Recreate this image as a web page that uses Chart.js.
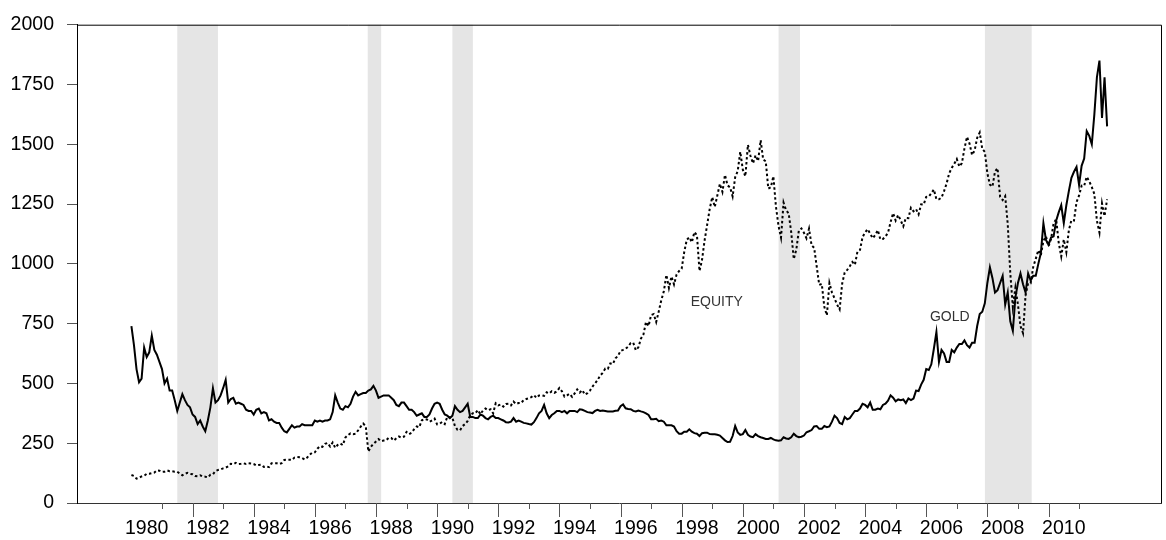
<!DOCTYPE html>
<html>
<head>
<meta charset="utf-8">
<script src="https://cdn.jsdelivr.net/npm/chart.js@4"></script>
<style>
  html, body { margin: 0; padding: 0; background: #fff; }
  #wrap { width: 1166px; height: 540px; position: relative; }
</style>
</head>
<body>
<div id="wrap"><canvas id="c" width="1166" height="540"></canvas></div>
<script>
// ---- Data (monthly, Jan 1980 .. Dec 2011) ----
const firstYear = 1980;
const gold = [
  740, 660, 560, 505, 520, 650, 610, 630, 700, 640, 620, 590,   // 1980
  560, 500, 520, 470, 470, 430, 385, 420, 455, 430, 410, 400,   // 1981
  370, 360, 330, 345, 320, 300, 345, 400, 480, 420, 430, 450,   // 1982
  480, 515, 420, 435, 440, 415, 420, 415, 410, 390, 385, 385,   // 1983
  370, 390, 395, 375, 380, 375, 345, 350, 340, 335, 335, 315,   // 1984
  300, 295, 310, 325, 315, 320, 320, 330, 325, 325, 325, 325,   // 1985
  345, 340, 345, 340, 345, 345, 350, 380, 450, 420, 395, 390,   // 1986
  405, 400, 415, 445, 465, 450, 455, 460, 460, 470, 475, 490,   // 1987
  470, 440, 445, 450, 450, 450, 440, 430, 410, 405, 420, 420,   // 1988
  405, 390, 390, 380, 365, 370, 375, 360, 360, 370, 395, 415,   // 1989
  420, 415, 390, 370, 365, 355, 365, 405, 390, 380, 385, 400,   // 1990
  415, 360, 360, 355, 355, 370, 365, 355, 350, 360, 365, 355,   // 1991
  355, 350, 345, 338, 337, 340, 355, 340, 345, 340, 335, 333,   // 1992
  330, 328, 338, 355, 375, 385, 410, 375, 355, 368, 375, 385,   // 1993
  385, 380, 385, 375, 385, 385, 385, 380, 392, 390, 385, 380,   // 1994
  378, 376, 385, 390, 385, 387, 385, 383, 383, 383, 386, 387,   // 1995
  405, 412, 396, 393, 392, 385, 383, 387, 383, 380, 375, 368,   // 1996
  350, 350, 352, 342, 345, 340, 325, 325, 325, 320, 300, 290,   // 1997
  290, 298, 298, 308, 298, 292, 290, 280, 292, 294, 294, 288,   // 1998
  287, 287, 285, 282, 272, 262, 255, 256, 280, 322, 295, 285,   // 1999
  288, 305, 285, 278, 275, 288, 280, 275, 272, 268, 268, 272,   // 2000
  266, 262, 260, 262, 275, 270, 268, 275, 290, 280, 275, 277,   // 2001
  282, 296, 300, 305, 320, 322, 310, 310, 322, 317, 320, 340,   // 2002
  365, 355, 335, 330, 360, 350, 355, 370, 385, 385, 395, 415,   // 2003
  410, 400, 420, 390, 390, 395, 392, 410, 415, 428, 450, 440,   // 2004
  425, 433, 430, 433, 418, 437, 430, 437, 470, 468, 495, 515,   // 2005
  560, 556, 580, 645, 715, 590, 640, 625, 590, 590, 640, 630,   // 2006
  650, 665, 665, 680, 660, 650, 670, 670, 740, 790, 800, 835,   // 2007
  920, 985, 940, 880, 890, 920, 950, 830, 880, 760, 720, 860,   // 2008
  920, 960, 915, 880, 960, 930, 950, 950, 1000, 1045, 1170, 1100, // 2009
  1080, 1110, 1115, 1180, 1215, 1245, 1170, 1245, 1305, 1360, 1385, 1405, // 2010
  1330, 1410, 1440, 1555, 1535, 1500, 1625, 1780, 1850, 1610, 1780, 1575  // 2011
];
const equity = [
  117, 113, 102, 106, 111, 114, 122, 122, 125, 127, 136, 135,   // 1980
  130, 131, 136, 133, 133, 131, 131, 123, 116, 122, 126, 122,   // 1981
  120, 113, 112, 116, 111, 110, 107, 118, 120, 134, 138, 140,   // 1982
  145, 148, 153, 164, 162, 168, 163, 164, 166, 163, 166, 165,   // 1983
  163, 157, 159, 160, 151, 153, 150, 166, 166, 166, 163, 167,   // 1984
  180, 181, 181, 180, 190, 192, 191, 188, 182, 190, 202, 211,   // 1985
  212, 227, 238, 235, 247, 251, 236, 253, 231, 243, 249, 242,   // 1986
  274, 284, 291, 288, 290, 304, 319, 332, 321, 215, 235, 247,   // 1987
  257, 267, 258, 261, 262, 273, 272, 261, 271, 278, 273, 277,   // 1988
  297, 288, 294, 309, 320, 317, 346, 351, 349, 340, 345, 353,   // 1989
  329, 331, 339, 330, 361, 358, 356, 322, 306, 304, 322, 330,   // 1990
  343, 367, 375, 375, 389, 371, 387, 395, 388, 392, 375, 417,   // 1991
  408, 412, 403, 414, 415, 408, 424, 414, 418, 418, 431, 435,   // 1992
  438, 443, 451, 440, 450, 450, 448, 463, 458, 467, 461, 466,   // 1993
  481, 467, 445, 450, 457, 444, 458, 475, 462, 472, 453, 459,   // 1994
  470, 487, 500, 514, 533, 544, 562, 561, 584, 581, 605, 615,   // 1995
  636, 640, 645, 654, 669, 670, 639, 651, 687, 705, 757, 740,   // 1996
  786, 790, 757, 801, 848, 885, 954, 899, 947, 914, 955, 970,   // 1997
  980, 1049, 1101, 1111, 1090, 1133, 1120, 970, 1017, 1098, 1163, 1229, // 1998
  1279, 1238, 1286, 1335, 1301, 1372, 1328, 1320, 1282, 1362, 1388, 1469, // 1999
  1394, 1366, 1498, 1452, 1420, 1454, 1430, 1517, 1436, 1429, 1315, 1320, // 2000
  1366, 1240, 1160, 1110, 1256, 1224, 1211, 1133, 1020, 1060, 1139, 1148, // 2001
  1130, 1107, 1147, 1077, 1067, 990, 912, 916, 820, 785, 920, 880,        // 2002
  856, 830, 810, 917, 964, 975, 990, 1008, 996, 1051, 1058, 1112,          // 2003
  1131, 1145, 1126, 1107, 1121, 1141, 1102, 1104, 1115, 1130, 1174, 1212,  // 2004
  1181, 1204, 1181, 1157, 1192, 1191, 1234, 1220, 1229, 1207, 1249, 1248,  // 2005
  1280, 1281, 1295, 1311, 1270, 1270, 1277, 1304, 1336, 1378, 1401, 1418,  // 2006
  1438, 1407, 1421, 1482, 1531, 1503, 1455, 1474, 1527, 1549, 1481, 1468,  // 2007
  1379, 1331, 1323, 1386, 1400, 1280, 1267, 1283, 1166, 960, 820, 900,     // 2008
  830, 740, 710, 870, 919, 919, 987, 1021, 1057, 1036, 1096, 1115,         // 2009
  1074, 1104, 1169, 1187, 1089, 1031, 1102, 1049, 1141, 1183, 1181, 1258,  // 2010
  1286, 1327, 1326, 1364, 1345, 1321, 1292, 1180, 1131, 1253, 1200, 1270   // 2011
];
// Recession shading (decimal years)
const recessionStart = [1981.50, 1987.73, 1990.50, 2001.17, 2007.92];
const recessionEnd   = [1982.83, 1988.17, 1991.17, 2001.87, 2009.45];
// Axis labels / ticks
const xLabelYears = [1980,1982,1984,1986,1988,1990,1992,1994,1996,1998,2000,2002,2004,2006,2008,2010];
const xTickYears = [];
for (let y = 1981; y <= 2011; y++) xTickYears.push(y);
const yTicks = [0, 250, 500, 750, 1000, 1250, 1500, 1750, 2000];
const seriesLabels = [
  { text: 'EQUITY', x: 1999.15, y: 838 },
  { text: 'GOLD',   x: 2006.77, y: 778 }
];

const toPoints = arr => arr.map((v, i) => ({ x: firstYear + i / 12, y: v }));

const FONT = "'Liberation Sans', Arial, sans-serif";

const framePlugin = {
  id: 'frame',
  beforeDatasetsDraw(chart) {
    const { ctx, chartArea: a, scales: { x } } = chart;
    ctx.save();
    ctx.fillStyle = '#e5e5e5';
    recessionStart.forEach((s, i) => {
      const x0 = x.getPixelForValue(s), x1 = x.getPixelForValue(recessionEnd[i]);
      ctx.fillRect(x0, a.top, x1 - x0, a.bottom - a.top);
    });
    ctx.restore();
  },
  afterDatasetsDraw(chart) {
    const { ctx, chartArea: a, scales: { x, y } } = chart;
    ctx.save();
    ctx.strokeStyle = '#000';
    ctx.lineWidth = 1;
    ctx.beginPath();
    ctx.moveTo(a.left, a.top + 0.5); ctx.lineTo(a.right + 0.5, a.top + 0.5);
    ctx.lineTo(a.right + 0.5, a.bottom);
    ctx.stroke();
    ctx.strokeStyle = '#555';
    xTickYears.forEach(yr => {
      const px = Math.round(x.getPixelForValue(yr)) + 0.5;
      const len = yr % 2 === 0 ? 14 : 6;
      ctx.beginPath();
      ctx.moveTo(px, a.bottom); ctx.lineTo(px, a.bottom + len);
      ctx.stroke();
    });
    ctx.fillStyle = '#333';
    ctx.font = '14px ' + FONT;
    ctx.textAlign = 'center';
    ctx.textBaseline = 'middle';
    seriesLabels.forEach(l => {
      ctx.fillText(l.text, x.getPixelForValue(l.x), y.getPixelForValue(l.y));
    });
    ctx.restore();
  }
};

new Chart(document.getElementById('c'), {
  type: 'line',
  data: {
    datasets: [
      {
        label: 'GOLD',
        data: toPoints(gold),
        borderColor: '#000',
        borderWidth: 2,
        pointRadius: 0,
        tension: 0,
        fill: false
      },
      {
        label: 'EQUITY',
        data: toPoints(equity),
        borderColor: '#000',
        borderWidth: 2,
        borderDash: [2.5, 2.5],
        pointRadius: 0,
        tension: 0,
        fill: false
      }
    ]
  },
  options: {
    responsive: false,
    animation: false,
    layout: { padding: { top: 23, right: 5, left: 0, bottom: 0 } },
    plugins: { legend: { display: false }, tooltip: { enabled: false } },
    scales: {
      x: {
        type: 'linear',
        min: 1978.22,
        max: 2013.68,
        afterBuildTicks: s => { s.ticks = xLabelYears.map(v => ({ value: v + 0.5 })); },
        afterFit: s => { s.height = 37; },
        grid: { display: false, drawTicks: false },
        border: { display: true, color: '#333', width: 1 },
        ticks: {
          autoSkip: false,
          maxRotation: 0,
          padding: 14,
          color: '#000',
          font: { family: FONT, size: 19.5 },
          callback: v => String(Math.floor(v))
        }
      },
      y: {
        min: 0,
        max: 2000,
        afterBuildTicks: s => { s.ticks = yTicks.map(v => ({ value: v })); },
        afterFit: s => { s.width = 77; },
        grid: { drawOnChartArea: false, drawTicks: true, tickLength: 10, color: '#555' },
        border: { display: true, color: '#000', width: 1 },
        ticks: {
          padding: 13,
          color: '#000',
          font: { family: FONT, size: 19.5 },
          callback: v => String(v)
        }
      }
    }
  },
  plugins: [framePlugin]
});
</script>
</body>
</html>
